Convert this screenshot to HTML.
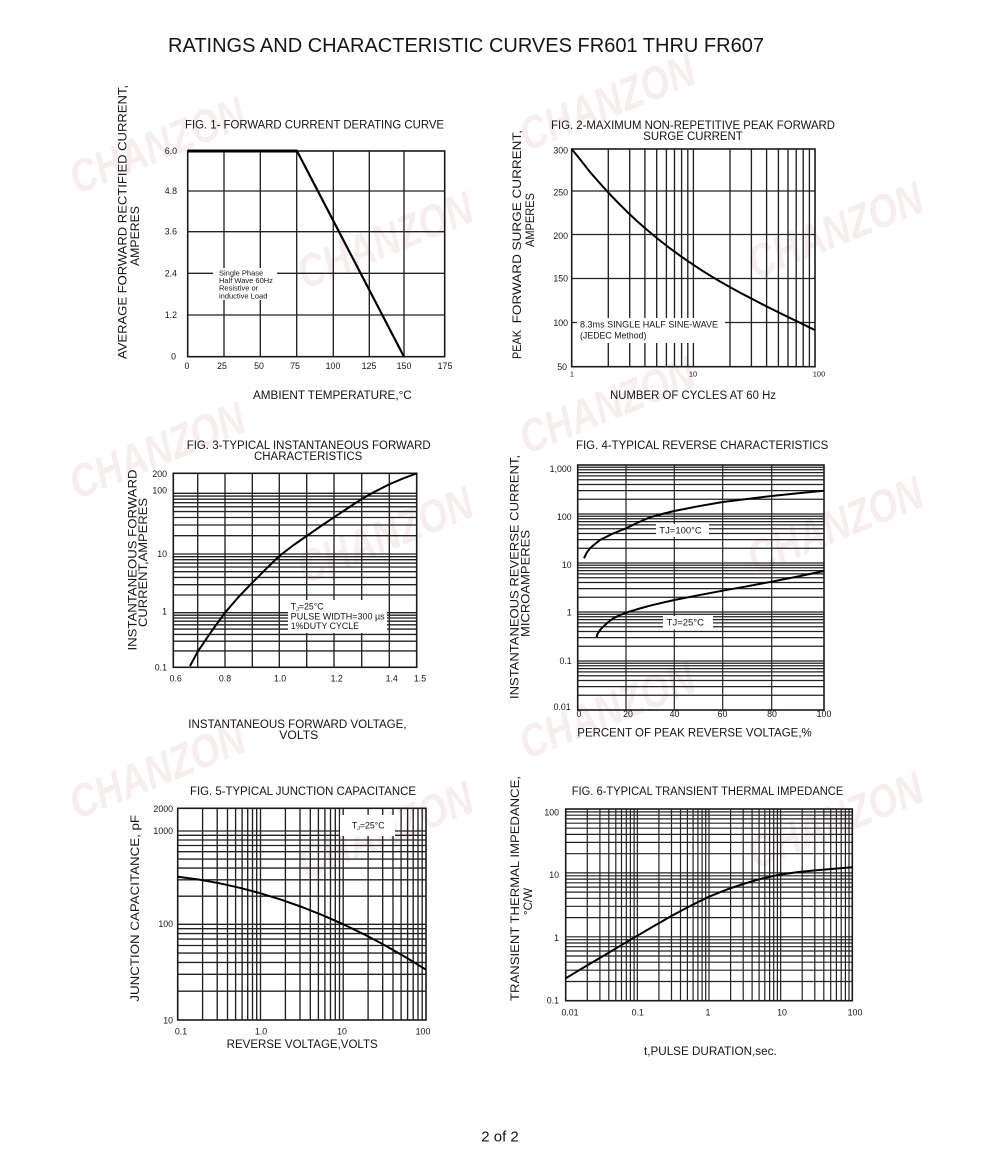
<!DOCTYPE html>
<html>
<head>
<meta charset="utf-8">
<style>
html,body{margin:0;padding:0;background:#fff;}
svg{display:block;}
text{font-family:"Liberation Sans",Arial,sans-serif;fill:#151515;}
.t{font-size:11.5px;}
.k{font-size:8.8px;}
.a{font-size:11.5px;}
.wm{font-family:"Liberation Sans",Arial,sans-serif;font-weight:bold;font-style:italic;font-size:46px;fill:#f6eded;}
.g{stroke:#222;stroke-width:1.35;fill:none;}
</style>
</head>
<body>
<svg width="1000" height="1152" viewBox="0 0 1000 1152" xmlns="http://www.w3.org/2000/svg">
<rect width="1000" height="1152" fill="#fff"/>

<!-- watermarks -->
<g>
<text class="wm" transform="translate(157,145) rotate(-22)" x="0" y="16" text-anchor="middle" textLength="185" lengthAdjust="spacingAndGlyphs">CHANZON</text>
<text class="wm" transform="translate(385,240) rotate(-22)" x="0" y="16" text-anchor="middle" textLength="185" lengthAdjust="spacingAndGlyphs">CHANZON</text>
<text class="wm" transform="translate(607,102) rotate(-22)" x="0" y="16" text-anchor="middle" textLength="185" lengthAdjust="spacingAndGlyphs">CHANZON</text>
<text class="wm" transform="translate(835,230) rotate(-22)" x="0" y="16" text-anchor="middle" textLength="185" lengthAdjust="spacingAndGlyphs">CHANZON</text>
<text class="wm" transform="translate(157,450) rotate(-22)" x="0" y="16" text-anchor="middle" textLength="185" lengthAdjust="spacingAndGlyphs">CHANZON</text>
<text class="wm" transform="translate(385,535) rotate(-22)" x="0" y="16" text-anchor="middle" textLength="185" lengthAdjust="spacingAndGlyphs">CHANZON</text>
<text class="wm" transform="translate(607,405) rotate(-22)" x="0" y="16" text-anchor="middle" textLength="185" lengthAdjust="spacingAndGlyphs">CHANZON</text>
<text class="wm" transform="translate(835,525) rotate(-22)" x="0" y="16" text-anchor="middle" textLength="185" lengthAdjust="spacingAndGlyphs">CHANZON</text>
<text class="wm" transform="translate(157,770) rotate(-22)" x="0" y="16" text-anchor="middle" textLength="185" lengthAdjust="spacingAndGlyphs">CHANZON</text>
<text class="wm" transform="translate(385,830) rotate(-22)" x="0" y="16" text-anchor="middle" textLength="185" lengthAdjust="spacingAndGlyphs">CHANZON</text>
<text class="wm" transform="translate(607,710) rotate(-22)" x="0" y="16" text-anchor="middle" textLength="185" lengthAdjust="spacingAndGlyphs">CHANZON</text>
<text class="wm" transform="translate(835,820) rotate(-22)" x="0" y="16" text-anchor="middle" textLength="185" lengthAdjust="spacingAndGlyphs">CHANZON</text>
</g>

<!-- page title -->
<text x="168" y="52" style="font-size:20px" textLength="596" lengthAdjust="spacingAndGlyphs">RATINGS AND CHARACTERISTIC CURVES FR601 THRU FR607</text>

<!-- ================= FIG 1 ================= -->
<text class="t" x="185" y="128.4" textLength="259" lengthAdjust="spacingAndGlyphs">FIG. 1- FORWARD CURRENT DERATING CURVE</text>
<path class="g" d="M224 151V356.7M260.3 151V356.7M296.7 151V356.7M333.3 151V356.7M369.3 151V356.7M404 151V356.7M187.7 191H444.7M187.7 231.7H444.7M187.7 273.3H444.7M187.7 315H444.7"/>
<rect x="187.7" y="151" width="257" height="205.7" fill="none" stroke="#1a1a1a" stroke-width="1.6"/>
<rect x="213" y="268" width="64" height="32" fill="#fff"/>
<g style="font-size:7.5px">
<text x="219" y="275.4">Single Phase</text>
<text x="219" y="283">Half Wave 60Hz</text>
<text x="219" y="290.7">Resistive or</text>
<text x="219" y="298.4">inductive Load</text>
</g>
<path d="M187.7 151H297.5" stroke="#000" stroke-width="3" fill="none"/>
<path d="M297 151L404 356.7" stroke="#000" stroke-width="2.2" fill="none"/>
<g class="k" text-anchor="end">
<text x="177" y="154">6.0</text>
<text x="177" y="194">4.8</text>
<text x="177" y="234.7">3.6</text>
<text x="177" y="276.3">2.4</text>
<text x="177" y="318">1.2</text>
<text x="176" y="359.7">0</text>
</g>
<g class="k" text-anchor="middle">
<text x="187" y="369">0</text>
<text x="222" y="369">25</text>
<text x="259" y="369">50</text>
<text x="295" y="369">75</text>
<text x="333" y="369">100</text>
<text x="369" y="369">125</text>
<text x="404" y="369">150</text>
<text x="445" y="369">175</text>
</g>
<text class="a" x="253" y="399" textLength="158.7" lengthAdjust="spacingAndGlyphs">AMBIENT TEMPERATURE,°C</text>
<text class="a" transform="translate(126.5,222) rotate(-90)" text-anchor="middle" textLength="274" lengthAdjust="spacingAndGlyphs">AVERAGE FORWARD RECTIFIED CURRENT,</text>
<text class="a" transform="translate(139,236) rotate(-90)" text-anchor="middle" textLength="60" lengthAdjust="spacingAndGlyphs">AMPERES</text>

<!-- ================= FIG 2 ================= -->
<text class="t" x="551" y="129" textLength="284" lengthAdjust="spacingAndGlyphs">FIG. 2-MAXIMUM NON-REPETITIVE PEAK FORWARD</text>
<text class="t" x="643.3" y="140" textLength="99.4" lengthAdjust="spacingAndGlyphs">SURGE CURRENT</text>
<path class="g" d="M608.3 149V366.7M629.7 149V366.7M644.9 149V366.7M656.7 149V366.7M666.4 149V366.7M674.5 149V366.7M681.6 149V366.7M687.8 149V366.7M693.4 149V366.7M730 149V366.7M751.4 149V366.7M766.6 149V366.7M778.4 149V366.7M788 149V366.7M796.2 149V366.7M803.2 149V366.7M809.4 149V366.7M571.7 191H815M571.7 234.5H815M571.7 278.5H815M571.7 322.5H815"/>
<rect x="571.7" y="149" width="243.3" height="217.7" fill="none" stroke="#1a1a1a" stroke-width="1.6"/>
<rect x="577" y="318" width="148" height="25" fill="#fff"/>
<g class="k">
<text x="580" y="327.3" textLength="138" lengthAdjust="spacingAndGlyphs">8.3ms SINGLE HALF SINE-WAVE</text>
<text x="580" y="338.3">(JEDEC Method)</text>
</g>
<polyline points="571.7,149 580.8,160.2 589.9,171.9 599,182.3 608.2,192.5 617.3,202 626.4,211.1 635.5,219.7 644.7,227.9 656.8,238 669,247.6 681.2,256.5 693.4,264.8 702.5,270.8 711.6,276.5 720.7,281.9 729.8,287 742,293.7 754.2,300 766.3,306.3 778.5,312.3 787.7,316.9 796.8,321.2 805.9,325.7 815,330.1" fill="none" stroke="#000" stroke-width="2" stroke-linejoin="round"/>
<g class="k" text-anchor="end">
<text x="568" y="153.7">300</text>
<text x="568" y="195.3">250</text>
<text x="568" y="239">200</text>
<text x="568" y="281.3">150</text>
<text x="568" y="326">100</text>
<text x="567" y="370">50</text>
</g>
<g style="font-size:7.5px" text-anchor="middle">
<text x="572" y="376.3">1</text>
<text x="693" y="376.3">10</text>
<text x="819" y="376.3">100</text>
</g>
<text class="a" x="610" y="399" textLength="166" lengthAdjust="spacingAndGlyphs">NUMBER OF CYCLES AT 60 Hz</text>
<text class="a" transform="translate(521,226.7) rotate(-90)" text-anchor="middle" textLength="193.3" lengthAdjust="spacingAndGlyphs">FORWARD SURGE CURRENT,</text>
<text class="a" transform="translate(521,344.5) rotate(-90)" text-anchor="middle" textLength="29" lengthAdjust="spacingAndGlyphs">PEAK</text>
<text class="a" transform="translate(534,220) rotate(-90)" text-anchor="middle" textLength="54" lengthAdjust="spacingAndGlyphs">AMPERES</text>

<!-- ================= FIG 3 ================= -->
<text class="t" x="186.7" y="449" textLength="244" lengthAdjust="spacingAndGlyphs">FIG. 3-TYPICAL INSTANTANEOUS FORWARD</text>
<text class="t" x="254" y="460" textLength="108.3" lengthAdjust="spacingAndGlyphs">CHARACTERISTICS</text>
<path class="g" d="M197.7 473.3V667.3M225 473.3V667.3M252.3 473.3V667.3M279.3 473.3V667.3M306.7 473.3V667.3M334 473.3V667.3M361.7 473.3V667.3M389.3 473.3V667.3
M173.3 650.9H416.7M173.3 641.2H416.7M173.3 634.4H416.7M173.3 629.1H416.7M173.3 624.8H416.7M173.3 621.2H416.7M173.3 618H416.7M173.3 615.2H416.7M173.3 612.7H416.7
M173.3 595H416.7M173.3 584.7H416.7M173.3 577.4H416.7M173.3 571.7H416.7M173.3 567H416.7M173.3 563.1H416.7M173.3 559.7H416.7M173.3 556.7H416.7M173.3 554H416.7
M173.3 535.7H416.7M173.3 525H416.7M173.3 517.5H416.7M173.3 511.6H416.7M173.3 506.8H416.7M173.3 502.7H416.7M173.3 499.2H416.7M173.3 496.1H416.7M173.3 493.3H416.7"/>
<rect x="173.3" y="473.3" width="243.4" height="194" fill="none" stroke="#1a1a1a" stroke-width="1.6"/>
<rect x="288" y="600" width="99" height="33" fill="#fff"/>
<g class="k">
<text x="290.7" y="609.5">T<tspan style="font-size:5.5px" dy="1.5">J</tspan><tspan dy="-1.5">=25°C</tspan></text>
<text x="290.7" y="619.5" textLength="94" lengthAdjust="spacingAndGlyphs">PULSE WIDTH=300 µs</text>
<text x="290.7" y="629">1%DUTY CYCLE</text>
</g>
<polyline points="190,666 197.7,651.7 211,632 225,612.7 238.5,597 252.3,582.7 266,569 279.3,556 293,545.5 306.7,536 320.3,526.5 334,517.3 348,508 361.7,499 375.5,491.3 389.3,484.3 403,478.5 416.7,473.3" fill="none" stroke="#000" stroke-width="2" stroke-linejoin="round"/>
<g class="k" text-anchor="end">
<text x="167" y="477">200</text>
<text x="167" y="493.7">100</text>
<text x="167" y="557">10</text>
<text x="167" y="614.7">1</text>
<text x="167" y="670.3">0.1</text>
</g>
<g class="k" text-anchor="middle">
<text x="175.7" y="681.3">0.6</text>
<text x="225" y="681.3">0.8</text>
<text x="280" y="681.3">1.0</text>
<text x="336.7" y="681.3">1.2</text>
<text x="391.7" y="681.3">1.4</text>
<text x="420" y="681.3">1.5</text>
</g>
<text class="a" x="188.3" y="728" textLength="218.3" lengthAdjust="spacingAndGlyphs">INSTANTANEOUS FORWARD VOLTAGE,</text>
<text class="a" x="279.3" y="739" textLength="39" lengthAdjust="spacingAndGlyphs">VOLTS</text>
<text class="a" transform="translate(136.5,560) rotate(-90)" text-anchor="middle" textLength="181" lengthAdjust="spacingAndGlyphs">INSTANTANEOUS FORWARD</text>
<text class="a" transform="translate(147,562.5) rotate(-90)" text-anchor="middle" textLength="129" lengthAdjust="spacingAndGlyphs">CURRENT,AMPERES</text>

<!-- ================= FIG 4 ================= -->
<text class="t" x="576" y="449" textLength="252.3" lengthAdjust="spacingAndGlyphs">FIG. 4-TYPICAL REVERSE CHARACTERISTICS</text>
<path class="g" style="stroke-width:1.2" d="M626 465V710M674.3 465V710M722.7 465V710M771.7 465V710
M577.7 695.25H824M577.7 686.62H824M577.7 680.5H824M577.7 675.75H824M577.7 671.87H824M577.7 668.59H824M577.7 665.75H824M577.7 663.24H824M577.7 661H824
M577.7 646.25H824M577.7 637.62H824M577.7 631.5H824M577.7 626.75H824M577.7 622.87H824M577.7 619.59H824M577.7 616.75H824M577.7 614.24H824M577.7 612H824
M577.7 597.25H824M577.7 588.62H824M577.7 582.5H824M577.7 577.75H824M577.7 573.87H824M577.7 570.59H824M577.7 567.75H824M577.7 565.24H824M577.7 563H824
M577.7 548.25H824M577.7 539.62H824M577.7 533.5H824M577.7 528.75H824M577.7 524.87H824M577.7 521.59H824M577.7 518.75H824M577.7 516.24H824M577.7 514H824
M577.7 499.25H824M577.7 490.62H824M577.7 484.5H824M577.7 479.75H824M577.7 475.87H824M577.7 472.59H824M577.7 469.75H824M577.7 467.24H824"/>
<rect x="577.7" y="465" width="246.3" height="245" fill="none" stroke="#1a1a1a" stroke-width="1.6"/>
<rect x="656" y="524" width="53" height="13" fill="#fff"/>
<rect x="663" y="616" width="50" height="13.5" fill="#fff"/>
<g class="k">
<text x="659.3" y="533.7" textLength="42.4" lengthAdjust="spacingAndGlyphs">TJ=100°C</text>
<text x="666.7" y="625.7" textLength="37.3" lengthAdjust="spacingAndGlyphs">TJ=25°C</text>
</g>
<polyline points="584,558.3 586.5,553 590,548.3 595,544 600,540 613,533.5 626,528.3 638,522.5 650,517.3 662,514 674.3,511 698,506.3 722.7,502 747,499 771.7,496 798,493.3 824,490.7" fill="none" stroke="#000" stroke-width="2" stroke-linejoin="round"/>
<polyline points="596.7,637.3 597.2,634.5 598.3,632.7 600.5,629.5 603.3,626.7 608,622.3 613.3,618.3 619.5,615.3 626,612.7 638,609 650,605.7 662,602.8 674.3,600 698,595.3 722.7,590.7 747,586.3 771.7,581.7 798,576.5 824,571" fill="none" stroke="#000" stroke-width="2" stroke-linejoin="round"/>
<g class="k" text-anchor="end">
<text x="571.7" y="472">1,000</text>
<text x="571.7" y="520">100</text>
<text x="571.7" y="568">10</text>
<text x="571.7" y="615.7">1</text>
<text x="571.7" y="664">0.1</text>
<text x="570.7" y="710">0.01</text>
</g>
<g class="k" text-anchor="middle">
<text x="579" y="717">0</text>
<text x="628" y="717">20</text>
<text x="674.5" y="717">40</text>
<text x="722.5" y="717">60</text>
<text x="772" y="717">80</text>
<text x="824" y="717">100</text>
</g>
<text class="a" x="577.3" y="736.7" textLength="234.4" lengthAdjust="spacingAndGlyphs">PERCENT OF PEAK REVERSE VOLTAGE,%</text>
<text class="a" transform="translate(518.7,577) rotate(-90)" text-anchor="middle" textLength="244" lengthAdjust="spacingAndGlyphs">INSTANTANEOUS REVERSE CURRENT,</text>
<text class="a" transform="translate(529.5,583.5) rotate(-90)" text-anchor="middle" textLength="107" lengthAdjust="spacingAndGlyphs">MICROAMPERES</text>

<!-- ================= FIG 5 ================= -->
<text class="t" x="190" y="795" textLength="226" lengthAdjust="spacingAndGlyphs">FIG. 5-TYPICAL JUNCTION CAPACITANCE</text>
<path class="g" d="M202.6 808.3V1020M217.2 808.3V1020M227.5 808.3V1020M235.6 808.3V1020M242.1 808.3V1020M247.7 808.3V1020M252.5 808.3V1020M256.7 808.3V1020M260.5 808.3V1020
M285.4 808.3V1020M300 808.3V1020M310.3 808.3V1020M318.4 808.3V1020M324.9 808.3V1020M330.5 808.3V1020M335.3 808.3V1020M339.5 808.3V1020M343.2 808.3V1020
M368.1 808.3V1020M382.7 808.3V1020M393 808.3V1020M401.1 808.3V1020M407.6 808.3V1020M413.2 808.3V1020M418 808.3V1020M422.2 808.3V1020
M177.7 991.2H426M177.7 974.3H426M177.7 962.4H426M177.7 953.1H426M177.7 945.5H426M177.7 939.1H426M177.7 933.6H426M177.7 928.7H426M177.7 924.3H426
M177.7 896.2H426M177.7 879.8H426M177.7 868.1H426M177.7 859.1H426M177.7 851.7H426M177.7 845.5H426M177.7 840H426M177.7 835.3H426M177.7 831H426"/>
<rect x="177.7" y="808.3" width="248.3" height="211.7" fill="none" stroke="#1a1a1a" stroke-width="1.6"/>
<rect x="340" y="815" width="55" height="21" fill="#fff"/>
<text class="k" x="351.7" y="828.7">T<tspan style="font-size:5.5px" dy="1.5">J</tspan><tspan dy="-1.5">=25°C</tspan></text>
<polyline points="177.7,876.7 198.4,879.5 219.1,883.2 239.8,887.8 260.5,893.3 281.2,899.7 301.9,907 322.6,915.2 343.3,924.3 364,934.3 384.7,945.2 405.3,957 426,969.7" fill="none" stroke="#000" stroke-width="2" stroke-linejoin="round"/>
<g class="k" text-anchor="end">
<text x="173" y="812">2000</text>
<text x="173" y="834">1000</text>
<text x="173" y="927">100</text>
<text x="173" y="1023.7">10</text>
</g>
<g class="k" text-anchor="middle">
<text x="181" y="1034.7">0.1</text>
<text x="261" y="1034.7">1.0</text>
<text x="342" y="1034.7">10</text>
<text x="423" y="1034.7">100</text>
</g>
<text class="a" x="226.7" y="1048" textLength="151" lengthAdjust="spacingAndGlyphs">REVERSE VOLTAGE,VOLTS</text>
<text class="a" transform="translate(139,908.3) rotate(-90)" text-anchor="middle" textLength="186.7" lengthAdjust="spacingAndGlyphs">JUNCTION CAPACITANCE, pF</text>

<!-- ================= FIG 6 ================= -->
<text class="t" x="571.7" y="795" textLength="271.6" lengthAdjust="spacingAndGlyphs">FIG. 6-TYPICAL TRANSIENT THERMAL IMPEDANCE</text>
<path class="g" style="stroke-width:1.2" d="M587.3 809V1000.7M599.9 809V1000.7M608.8 809V1000.7M615.8 809V1000.7M621.5 809V1000.7M626.3 809V1000.7M630.4 809V1000.7M634.1 809V1000.7M637.35 809V1000.7
M658.9 809V1000.7M671.5 809V1000.7M680.5 809V1000.7M687.4 809V1000.7M693.1 809V1000.7M697.9 809V1000.7M702.1 809V1000.7M705.7 809V1000.7M709 809V1000.7
M730.6 809V1000.7M743.2 809V1000.7M752.1 809V1000.7M759.1 809V1000.7M764.8 809V1000.7M769.6 809V1000.7M773.7 809V1000.7M777.4 809V1000.7M780.65 809V1000.7
M802.2 809V1000.7M814.8 809V1000.7M823.8 809V1000.7M830.7 809V1000.7M836.4 809V1000.7M841.2 809V1000.7M845.4 809V1000.7M849 809V1000.7
M565.7 981.5H852.3M565.7 970.2H852.3M565.7 962.2H852.3M565.7 956H852.3M565.7 951H852.3M565.7 946.7H852.3M565.7 943H852.3M565.7 939.7H852.3M565.7 936.8H852.3
M565.7 917.6H852.3M565.7 906.3H852.3M565.7 898.3H852.3M565.7 892.1H852.3M565.7 887.1H852.3M565.7 882.8H852.3M565.7 879.1H852.3M565.7 875.8H852.3M565.7 872.9H852.3
M565.7 853.7H852.3M565.7 842.4H852.3M565.7 834.4H852.3M565.7 828.2H852.3M565.7 823.2H852.3M565.7 818.9H852.3M565.7 815.2H852.3M565.7 811.9H852.3"/>
<rect x="565.7" y="809" width="286.6" height="191.7" fill="none" stroke="#1a1a1a" stroke-width="1.6"/>
<polyline points="565.7,978.3 583.6,967.5 601.5,957 619.4,946.3 637.35,935.7 655.3,925.2 673.2,915 691.1,905.5 709,896.7 726.9,889.5 744.8,883.5 762.7,878.3 780.65,874.5 798.6,872 816.5,870.3 834.4,868.8 852.3,867.3" fill="none" stroke="#000" stroke-width="2" stroke-linejoin="round"/>
<g class="k" text-anchor="end">
<text x="559" y="815.7">100</text>
<text x="559" y="878">10</text>
<text x="559" y="941">1</text>
<text x="559" y="1003.7">0.1</text>
</g>
<g class="k" text-anchor="middle">
<text x="570" y="1015.3">0.01</text>
<text x="637.7" y="1015.3">0.1</text>
<text x="708" y="1015.3">1</text>
<text x="782" y="1015.3">10</text>
<text x="855" y="1015.3">100</text>
</g>
<text class="a" x="644" y="1055" textLength="132.7" lengthAdjust="spacingAndGlyphs">t,PULSE DURATION,sec.</text>
<text class="a" transform="translate(519,888.5) rotate(-90)" text-anchor="middle" textLength="225" lengthAdjust="spacingAndGlyphs">TRANSIENT THERMAL IMPEDANCE,</text>
<text class="a" transform="translate(532,901.5) rotate(-90)" text-anchor="middle" textLength="27" lengthAdjust="spacingAndGlyphs">°C/W</text>

<!-- footer -->
<text x="500" y="1141.5" text-anchor="middle" style="font-size:15px">2 of 2</text>
</svg>
</body>
</html>
